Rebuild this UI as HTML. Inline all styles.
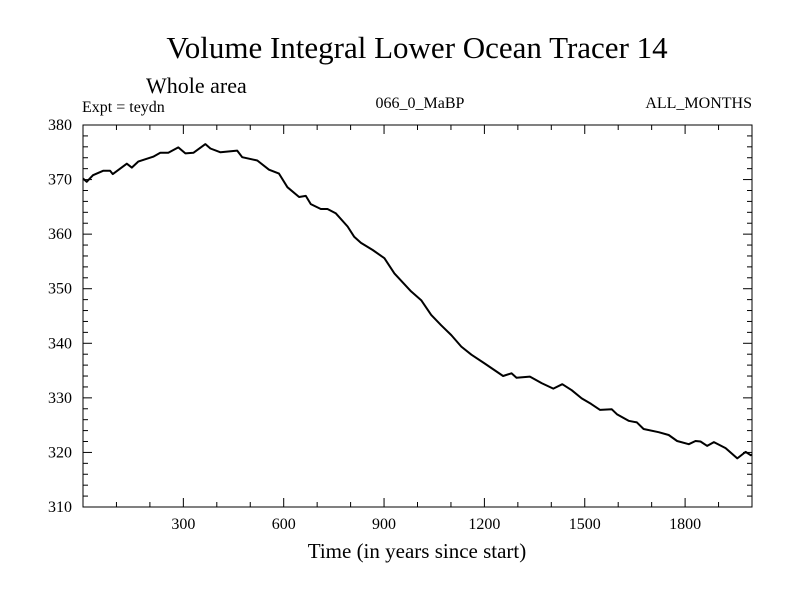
<!DOCTYPE html>
<html><head><meta charset="utf-8"><style>
body{margin:0;background:#fff}
svg{display:block;font-family:"Liberation Serif",serif}
</style></head><body>
<svg id="chart" width="800" height="600" viewBox="0 0 800 600">
<text x="417" y="58" font-size="31" text-anchor="middle">Volume Integral Lower Ocean Tracer 14</text>
<text x="146" y="93" font-size="22">Whole area</text>
<text x="82" y="112" font-size="16">Expt = teydn</text>
<text x="420" y="108" font-size="16" text-anchor="middle">066_0_MaBP</text>
<text x="752" y="108" font-size="16" text-anchor="end">ALL_MONTHS</text>
<g id="axes"></g>
<path id="series" fill="none" stroke="#000" stroke-width="2" stroke-linejoin="round"/>
<rect x="83" y="125" width="669" height="382" fill="none" stroke="#000" stroke-width="1"/>
<text x="417" y="558" font-size="21" text-anchor="middle">Time (in years since start)</text>
</svg>
<script>
const years=[0,11,30,60,81,89,131,146,165,210,231,255,285,306,330,366,381,411,461,476,521,556,586,611,646,666,681,711,731,756,791,811,831,866,901,931,981,1011,1041,1071,1101,1131,1161,1201,1256,1281,1296,1336,1371,1406,1433,1461,1491,1519,1546,1581,1596,1631,1656,1676,1721,1751,1776,1811,1831,1846,1866,1886,1921,1956,1981,1996,2000];
const values=[370.2,369.6,370.8,371.6,371.6,371.0,372.9,372.2,373.3,374.2,374.9,374.9,375.9,374.8,374.9,376.5,375.7,375.0,375.3,374.1,373.5,371.8,371.1,368.6,366.8,367.0,365.5,364.6,364.6,363.8,361.4,359.5,358.4,357.1,355.6,352.8,349.5,347.9,345.2,343.3,341.5,339.4,337.9,336.3,334.0,334.5,333.7,333.9,332.7,331.7,332.5,331.4,329.9,328.9,327.8,327.9,327.0,325.8,325.5,324.3,323.7,323.2,322.1,321.5,322.1,322.0,321.2,321.9,320.8,318.9,320.1,319.5,319.6];
const xTicks=[300,600,900,1200,1500,1800];
const yTicks=[310,320,330,340,350,360,370,380];
const X0=83,X1=752,Y0=507,Y1=125,xMin=0,xMax=2000,yMin=310,yMax=380;
const sx=v=>X0+(v-xMin)/(xMax-xMin)*(X1-X0);
const sy=v=>Y0-(v-yMin)/(yMax-yMin)*(Y0-Y1);
const NS="http://www.w3.org/2000/svg";
const g=document.getElementById('axes');
function ln(x1,y1,x2,y2,name){const l=document.createElementNS(NS,'line');l.setAttribute('x1',x1);l.setAttribute('y1',y1);l.setAttribute('x2',x2);l.setAttribute('y2',y2);l.setAttribute('stroke','#000');


g.appendChild(l);}
for(let v=100;v<xMax;v+=100){const x=sx(v);const L=(v%300===0)?9:5;ln(x,Y0,x,Y0-L,'x-tick');ln(x,Y1,x,Y1+L,'x-tick-top');}
for(let v=yMin+2;v<yMax;v+=2){const y=sy(v);const L=(v%10===0)?9:5;ln(X0,y,X0+L,y,'y-tick');ln(X1,y,X1-L,y,'y-tick-right');}
xTicks.forEach(v=>{const t=document.createElementNS(NS,'text');t.setAttribute('x',sx(v));t.setAttribute('y',Y0+22);t.setAttribute('font-size','16');t.setAttribute('text-anchor','middle');t.textContent=v;


g.appendChild(t);});
yTicks.forEach(v=>{const t=document.createElementNS(NS,'text');t.setAttribute('x',X0-11);t.setAttribute('y',sy(v)+5);t.setAttribute('font-size','16');t.setAttribute('text-anchor','end');t.textContent=v;


g.appendChild(t);});
document.getElementById('series').setAttribute('d',years.map((y,i)=>(i?'L':'M')+sx(y).toFixed(1)+','+sy(values[i]).toFixed(1)).join(''));
</script>
</body></html>
